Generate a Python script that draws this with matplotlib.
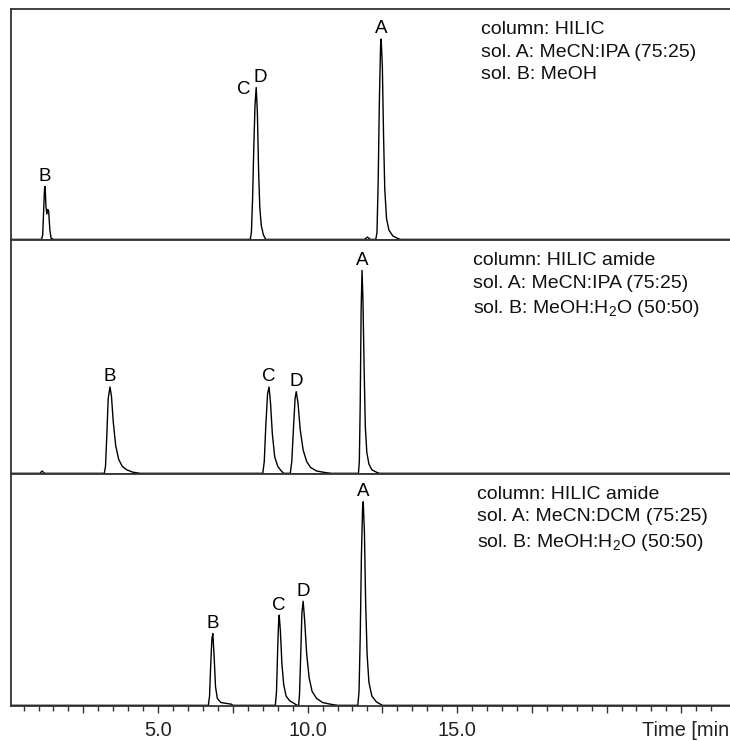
import matplotlib.pyplot as plt
import numpy as np

plt.rcParams['font.family'] = ['Liberation Sans', 'DejaVu Sans']
plt.rcParams['mathtext.fontset'] = 'custom'
plt.rcParams['mathtext.rm'] = 'Liberation Sans'

# Chromatogram traces (time in min, signal in % of panel height)
# Panel 1: HILIC, MeCN:IPA / MeOH
t1 = [0.1, 1.10, 1.14, 1.17, 1.20, 1.22, 1.25, 1.28, 1.31, 1.34, 1.38, 1.42, 1.5,
      8.08, 8.12, 8.16, 8.20, 8.24, 8.28, 8.32, 8.36, 8.40, 8.45, 8.52, 8.6,
      11.9, 12.0, 12.1,
      12.28, 12.32, 12.36, 12.40, 12.44, 12.46, 12.50, 12.54, 12.58, 12.64, 12.72, 12.85, 13.0, 13.1, 24.2]
s1 = [0, 0, 2, 12, 22, 23, 14, 11, 13, 12, 4, 0.5, 0,
      0, 3, 18, 40, 58, 66, 55, 30, 14, 6, 2, 0,
      0, 1, 0,
      0, 3, 25, 60, 84, 87, 75, 45, 22, 9, 4, 1.5, 0.5, 0, 0]

# Panel 2: HILIC amide, MeCN:IPA / MeOH:H2O
t2 = [0.1, 1.05, 1.12, 1.2,
      3.20, 3.24, 3.28, 3.33, 3.39, 3.44, 3.50, 3.58, 3.68, 3.80, 3.95, 4.15, 4.4,
      8.50, 8.55, 8.60, 8.66, 8.71, 8.76, 8.82, 8.90, 9.0, 9.12, 9.2,
      9.42, 9.47, 9.53, 9.58, 9.62, 9.68, 9.75, 9.85, 9.97, 10.1, 10.3, 10.6, 10.8,
      11.70, 11.73, 11.76, 11.79, 11.82, 11.85, 11.89, 11.93, 11.98, 12.05, 12.15, 12.3, 12.4, 24.2]
s2 = [0, 0, 1, 0,
      0, 3, 15, 32, 37, 33, 22, 12, 6, 3, 1.5, 0.5, 0,
      0, 5, 20, 34, 37, 30, 17, 7, 3, 1, 0,
      0, 5, 20, 32, 35, 30, 19, 10, 5, 2.5, 1, 0.3, 0,
      0, 5, 30, 70, 87, 75, 45, 20, 9, 4, 1.5, 0.5, 0, 0]

# Panel 3: HILIC amide, MeCN:DCM / MeOH:H2O
t3 = [0.1, 6.68, 6.72, 6.76, 6.80, 6.83, 6.87, 6.92, 6.98, 7.1, 7.3, 7.45, 7.5,
      8.92, 8.96, 9.00, 9.03, 9.05, 9.09, 9.14, 9.20, 9.28, 9.40, 9.55, 9.65,
      9.70, 9.73, 9.77, 9.81, 9.85, 9.90, 9.97, 10.05, 10.15, 10.3, 10.5, 10.8, 11.0,
      11.68, 11.72, 11.76, 11.80, 11.84, 11.86, 11.90, 11.94, 11.99, 12.05, 12.15, 12.3, 12.5, 24.2]
s3 = [0, 0, 4, 18, 29, 31, 22, 8, 3, 1.2, 0.8, 0.5, 0,
      0, 6, 25, 36, 39, 32, 18, 9, 4, 2, 0.8, 0,
      0, 5, 22, 40, 45, 37, 22, 12, 6, 3, 1.2, 0.4, 0,
      0, 6, 30, 65, 86, 88, 75, 45, 22, 10, 4, 1.5, 0, 0]

# peak names and retention times
names1 = ['B', 'C', 'D', 'A']
rt1 = [1.22, 8.28, 8.28, 12.46]
names2 = ['B', 'C', 'D', 'A']
rt2 = [3.39, 8.71, 9.62, 11.82]
names3 = ['B', 'C', 'D', 'A']
rt3 = [6.83, 9.05, 9.85, 11.86]

conditions = [
    'column: HILIC\nsol. A: MeCN:IPA (75:25)\nsol. B: MeOH',
    'column: HILIC amide\nsol. A: MeCN:IPA (75:25)\nsol. B: MeOH:H$_\\mathrm{2}$O (50:50)',
    'column: HILIC amide\nsol. A: MeCN:DCM (75:25)\nsol. B: MeOH:H$_\\mathrm{2}$O (50:50)',
]

fig = plt.figure(figsize=(7.3, 7.41), dpi=100)

# axes boxes in figure fractions (left, bottom, width, height)
boxes = [(0.0151, 0.676, 0.985, 0.3117),
         (0.0151, 0.3603, 0.985, 0.3158),
         (0.0151, 0.0472, 0.985, 0.3131)]
text_x = [0.654, 0.643, 0.648]

traces = [(t1, s1, names1, rt1), (t2, s2, names2, rt2), (t3, s3, names3, rt3)]
spine_col = '#333333'

for i, (t, s, names, rt) in enumerate(traces):
    ax = fig.add_axes(boxes[i])
    ax.plot(t, s, color='black', lw=1.0)
    ax.set_xlim(0.08, 24.13)
    ax.set_ylim(-0.3, 100)
    ax.set_yticks([])
    for side in ['top', 'bottom', 'left']:
        ax.spines[side].set_color(spine_col)
        ax.spines[side].set_linewidth(1.3)
    ax.spines['right'].set_visible(False)

    # peak letters
    for name, r in zip(names, rt):
        h = np.interp(r, t, s)
        off = (0, 4)
        if i == 0 and name == 'C':
            off = (-9, -5)
        if i == 0 and name == 'D':
            off = (3, 4)
        ax.annotate(name, (r, h), xytext=off, textcoords='offset points',
                    ha='center', va='baseline', fontsize=13.5)

    ax.text(text_x[i], 0.95, conditions[i], transform=ax.transAxes,
            ha='left', va='top', fontsize=14, linespacing=1.45, color='#111111')

    if i < 2:
        ax.set_xticks([])
    else:
        ax.set_xticks([2.5, 5, 7.5, 10, 12.5, 15, 17.5, 20, 22.5])
        ax.set_xticklabels(['', '5.0', '', '10.0', '', '15.0', '', '', ''])
        ax.set_xticks(np.arange(0.5, 24, 0.5), minor=True)
        ax.tick_params(axis='x', which='major', length=5, width=1.0, colors=spine_col,
                       labelcolor='#222222', labelsize=14.4, pad=6)
        ax.tick_params(axis='x', which='minor', length=3.5, width=1.0, colors=spine_col)

# axis title, shown cut at the right edge as in the picture
fig.text(642 / 730, 10 / 741, 'Time [min', ha='left', va='center', fontsize=14.4,
         color='#222222')

plt.savefig('out.png', dpi=100)
